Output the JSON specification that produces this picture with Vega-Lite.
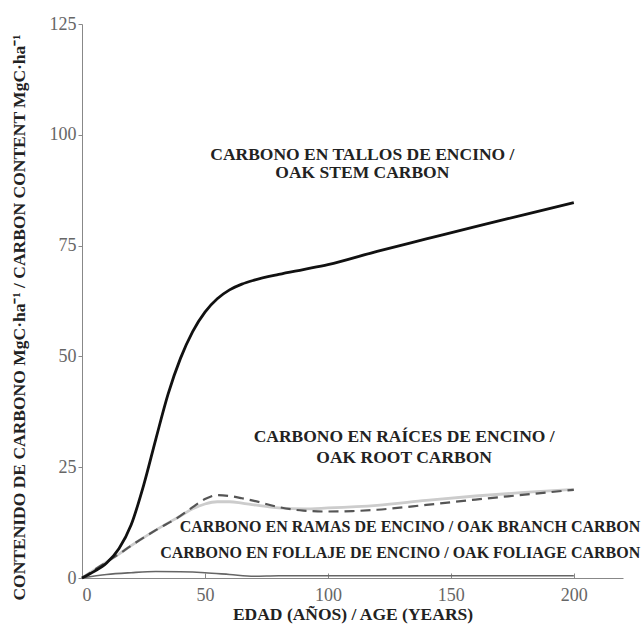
{
  "$schema": "https://vega.github.io/schema/vega-lite/v6.json",
  "width": 541,
  "height": 554,
  "autosize": {"type": "none"},
  "padding": {"left": 82, "top": 24, "right": 18, "bottom": 46},
  "background": "white",
  "config": {"view": {"stroke": null}, "font": "Liberation Serif"},
  "datasets": {
    "curves": [
      {"series": "stem", "age": 0, "c": 0},
      {"series": "stem", "age": 5, "c": 1.5},
      {"series": "stem", "age": 10, "c": 3.4},
      {"series": "stem", "age": 15, "c": 6.6},
      {"series": "stem", "age": 20, "c": 12},
      {"series": "stem", "age": 25, "c": 20.8},
      {"series": "stem", "age": 30, "c": 31.3},
      {"series": "stem", "age": 35, "c": 41.5},
      {"series": "stem", "age": 40, "c": 49.5},
      {"series": "stem", "age": 45, "c": 55.6},
      {"series": "stem", "age": 50, "c": 60},
      {"series": "stem", "age": 55, "c": 63},
      {"series": "stem", "age": 60, "c": 65},
      {"series": "stem", "age": 65, "c": 66.3},
      {"series": "stem", "age": 70, "c": 67.2},
      {"series": "stem", "age": 80, "c": 68.5},
      {"series": "stem", "age": 90, "c": 69.6},
      {"series": "stem", "age": 100, "c": 70.7},
      {"series": "stem", "age": 120, "c": 73.7},
      {"series": "stem", "age": 140, "c": 76.5},
      {"series": "stem", "age": 160, "c": 79.3},
      {"series": "stem", "age": 180, "c": 82},
      {"series": "stem", "age": 200, "c": 84.7},
      {"series": "root", "age": 0, "c": 0},
      {"series": "root", "age": 5, "c": 1.8},
      {"series": "root", "age": 10, "c": 3.6},
      {"series": "root", "age": 15, "c": 5.4},
      {"series": "root", "age": 20, "c": 7.3},
      {"series": "root", "age": 30, "c": 10.8},
      {"series": "root", "age": 40, "c": 14},
      {"series": "root", "age": 45, "c": 16},
      {"series": "root", "age": 50, "c": 17.8},
      {"series": "root", "age": 55, "c": 18.7},
      {"series": "root", "age": 60, "c": 18.5},
      {"series": "root", "age": 65, "c": 18},
      {"series": "root", "age": 70, "c": 17.4},
      {"series": "root", "age": 80, "c": 16},
      {"series": "root", "age": 90, "c": 15.2},
      {"series": "root", "age": 100, "c": 15},
      {"series": "root", "age": 110, "c": 15.1},
      {"series": "root", "age": 120, "c": 15.4},
      {"series": "root", "age": 140, "c": 16.5},
      {"series": "root", "age": 160, "c": 17.7},
      {"series": "root", "age": 180, "c": 18.8},
      {"series": "root", "age": 200, "c": 19.9},
      {"series": "branch", "age": 0, "c": 0},
      {"series": "branch", "age": 5, "c": 1.8},
      {"series": "branch", "age": 10, "c": 3.6},
      {"series": "branch", "age": 15, "c": 5.4},
      {"series": "branch", "age": 20, "c": 7.3},
      {"series": "branch", "age": 30, "c": 10.8},
      {"series": "branch", "age": 40, "c": 14},
      {"series": "branch", "age": 45, "c": 15.6},
      {"series": "branch", "age": 50, "c": 16.7},
      {"series": "branch", "age": 55, "c": 17.2},
      {"series": "branch", "age": 60, "c": 17.2},
      {"series": "branch", "age": 65, "c": 16.9},
      {"series": "branch", "age": 70, "c": 16.5},
      {"series": "branch", "age": 80, "c": 15.8},
      {"series": "branch", "age": 90, "c": 15.6},
      {"series": "branch", "age": 100, "c": 15.8},
      {"series": "branch", "age": 120, "c": 16.4},
      {"series": "branch", "age": 140, "c": 17.5},
      {"series": "branch", "age": 160, "c": 18.5},
      {"series": "branch", "age": 180, "c": 19.3},
      {"series": "branch", "age": 200, "c": 20},
      {"series": "foliage", "age": 0, "c": 0},
      {"series": "foliage", "age": 10, "c": 0.8},
      {"series": "foliage", "age": 20, "c": 1.2},
      {"series": "foliage", "age": 30, "c": 1.45},
      {"series": "foliage", "age": 40, "c": 1.4},
      {"series": "foliage", "age": 50, "c": 1.2},
      {"series": "foliage", "age": 60, "c": 0.8},
      {"series": "foliage", "age": 70, "c": 0.4},
      {"series": "foliage", "age": 80, "c": 0.5},
      {"series": "foliage", "age": 100, "c": 0.5},
      {"series": "foliage", "age": 150, "c": 0.5},
      {"series": "foliage", "age": 200, "c": 0.5}
    ],
    "centerLabels": [
      {"text": "CARBONO EN TALLOS DE ENCINO /", "age": 114, "c": 95.5},
      {"text": "OAK STEM CARBON", "age": 114, "c": 91.4},
      {"text": "CARBONO EN RAÍCES DE ENCINO /", "age": 131, "c": 31.8},
      {"text": "OAK ROOT CARBON", "age": 131, "c": 27.1}
    ],
    "rightLabels": [
      {"text": "CARBONO EN RAMAS DE ENCINO / OAK BRANCH CARBON", "age": 227, "c": 11.5},
      {"text": "CARBONO EN FOLLAJE DE ENCINO / OAK FOLIAGE CARBON", "age": 227, "c": 5.6}
    ]
  },
  "encoding": {
    "x": {
      "field": "age", "type": "quantitative",
      "scale": {"domain": [0, 220], "nice": false, "zero": true},
      "axis": {
        "values": [0, 50, 100, 150, 200], "grid": false,
        "title": "EDAD (AÑOS) / AGE (YEARS)",
        "titleFont": "Liberation Serif", "titleFontSize": 17.5, "titleFontWeight": "bold", "titleColor": "#222",
        "titleBaseline": "middle", "titleY": 36,
        "labelFont": "Liberation Serif", "labelFontSize": 18, "labelColor": "#666",
        "domainColor": "#888", "tickColor": "#888", "tickSize": -5, "labelPadding": 13
      }
    },
    "y": {
      "field": "c", "type": "quantitative",
      "scale": {"domain": [0, 125], "nice": false},
      "axis": {
        "values": [0, 25, 50, 75, 100, 125], "grid": false,
        "title": "CONTENIDO DE CARBONO MgC·ha⁻¹ / CARBON CONTENT MgC·ha⁻¹",
        "titleFont": "Liberation Serif", "titleFontSize": 17.5, "titleFontWeight": "bold", "titleColor": "#222",
        "titleAngle": -90, "titleBaseline": "middle", "titleAlign": "center", "titleX": -63, "titleY": 293,
        "labelFont": "Liberation Serif", "labelFontSize": 18, "labelColor": "#666",
        "domainColor": "#888", "tickColor": "#888", "tickSize": 4, "labelPadding": 2
      }
    }
  },
  "layer": [
    {
      "data": {"name": "curves"},
      "transform": [{"filter": "datum.series === 'branch'"}],
      "mark": {"type": "line", "interpolate": "monotone", "color": "#cccccc", "strokeWidth": 2.8}
    },
    {
      "data": {"name": "curves"},
      "transform": [{"filter": "datum.series === 'root'"}],
      "mark": {"type": "line", "interpolate": "monotone", "color": "#555555", "strokeWidth": 2.2, "strokeDash": [10, 6]}
    },
    {
      "data": {"name": "curves"},
      "transform": [{"filter": "datum.series === 'foliage'"}],
      "mark": {"type": "line", "interpolate": "monotone", "color": "#666666", "strokeWidth": 1.6}
    },
    {
      "data": {"name": "curves"},
      "transform": [{"filter": "datum.series === 'stem'"}],
      "mark": {"type": "line", "interpolate": "monotone", "color": "#111111", "strokeWidth": 2.8}
    },
    {
      "data": {"name": "centerLabels"},
      "mark": {"type": "text", "align": "center", "baseline": "middle", "font": "Liberation Serif", "fontWeight": "bold", "fontSize": 17.5, "color": "#222"},
      "encoding": {"text": {"field": "text"}}
    },
    {
      "data": {"name": "rightLabels"},
      "mark": {"type": "text", "align": "right", "baseline": "middle", "font": "Liberation Serif", "fontWeight": "bold", "fontSize": 16, "color": "#222"},
      "encoding": {"text": {"field": "text"}}
    }
  ]
}
